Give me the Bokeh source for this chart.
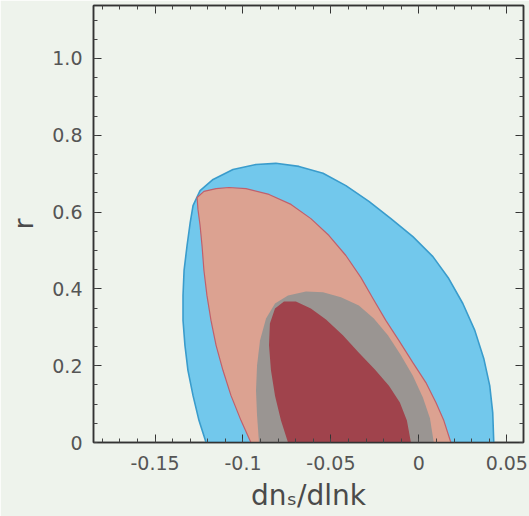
from bokeh.plotting import figure
from bokeh.models import FixedTicker, LinearAxis, Range1d
from bokeh.embed import file_html
from bokeh.resources import INLINE

# Confidence contours in the (dn_s/dlnk, r) plane
blue95_x = [-0.1210, -0.1250, -0.1284, -0.1313, -0.1330, -0.1341, -0.1341, -0.1335, -0.1318, -0.1300,
            -0.1284, -0.1244, -0.1170, -0.1057, -0.0926, -0.0813, -0.0682, -0.0545, -0.0415, -0.0284,
            -0.0159, -0.0034, 0.0080, 0.0170, 0.0250, 0.0318, 0.0369, 0.0403, 0.0420, 0.0426]
blue95_y = [0.0, 0.057, 0.122, 0.188, 0.253, 0.318, 0.383, 0.448, 0.513, 0.573,
            0.617, 0.656, 0.685, 0.711, 0.724, 0.727, 0.719, 0.701, 0.669, 0.628,
            0.583, 0.536, 0.484, 0.427, 0.362, 0.292, 0.219, 0.148, 0.078, 0.0]

red95_x = [-0.0955, -0.1011, -0.1068, -0.1114, -0.1153, -0.1182, -0.1205, -0.1222, -0.1233, -0.1244,
           -0.1256, -0.1261, -0.1222, -0.1153, -0.1080, -0.0983, -0.0852, -0.0727, -0.0614, -0.0511,
           -0.0415, -0.0330, -0.0261, -0.0188, -0.0114, -0.0034, 0.0040, 0.0097, 0.0142, 0.0182]
red95_y = [0.0, 0.057, 0.122, 0.188, 0.253, 0.318, 0.383, 0.448, 0.513, 0.565,
           0.607, 0.638, 0.654, 0.661, 0.664, 0.661, 0.646, 0.620, 0.583, 0.539,
           0.487, 0.430, 0.375, 0.318, 0.266, 0.208, 0.156, 0.104, 0.057, 0.0]

blue68_x = [-0.0909, -0.0920, -0.0926, -0.0920, -0.0903, -0.0869, -0.0818, -0.0744, -0.0642, -0.0545,
            -0.0443, -0.0341, -0.0256, -0.0176, -0.0102, -0.0034, 0.0023, 0.0063, 0.0085]
blue68_y = [0.0, 0.070, 0.135, 0.201, 0.266, 0.323, 0.362, 0.383, 0.393, 0.391,
            0.378, 0.357, 0.323, 0.279, 0.227, 0.174, 0.117, 0.063, 0.0]

red68_x = [-0.0744, -0.0784, -0.0818, -0.0841, -0.0852, -0.0847, -0.0818, -0.0767, -0.0699, -0.0614,
           -0.0528, -0.0432, -0.0341, -0.0250, -0.0170, -0.0108, -0.0068, -0.0045]
red68_y = [0.0, 0.057, 0.122, 0.188, 0.253, 0.310, 0.349, 0.367, 0.367, 0.349,
           0.320, 0.279, 0.234, 0.190, 0.148, 0.104, 0.057, 0.0]

x_ticks = [-0.15, -0.1, -0.05, 0.0, 0.05]
x_tick_labels = {-0.15: "-0.15", -0.1: "-0.1", -0.05: "-0.05", 0.0: "0", 0.05: "0.05"}
y_ticks = [0.0, 0.2, 0.4, 0.6, 0.8, 1.0]
y_tick_labels = {0.0: "0", 0.2: "0.2", 0.4: "0.4", 0.6: "0.6", 0.8: "0.8", 1.0: "1.0"}

x_minor = [round(-0.18 + 0.01 * i, 2) for i in range(24)]
y_minor = [round(0.05 * i, 2) for i in range(23)]

x_title = "dnₛ/dlnk"
y_title = "r"

BG = "#eef3ec"
FONT = "DejaVu Sans"

p = figure(width=529, height=516, output_backend="svg", toolbar_location=None,
           x_range=Range1d(-0.185, 0.0595), y_range=Range1d(0.0, 1.138),
           min_border_left=93, min_border_right=6, min_border_top=5, min_border_bottom=74,
           background_fill_color=BG, border_fill_color=BG, outline_line_color="#333333",
           outline_line_width=1.5)
p.xaxis.visible = False
p.yaxis.visible = False
p.grid.visible = False

p.patch(blue95_x, blue95_y, fill_color="#72c8ec", line_color="#3a9ccc", line_width=1.6)
p.patch(red95_x, red95_y, fill_color="#dca291", line_color="#c0606c", line_width=1.2)
p.patch(blue68_x, blue68_y, fill_color="#9a9592", line_color=None)
p.patch(red68_x, red68_y, fill_color="#a0434c", line_color=None)


def style(axis, labels):
    axis.axis_line_color = "#333333"
    axis.axis_line_width = 1.5
    axis.major_tick_line_color = "#333333"
    axis.minor_tick_line_color = "#444444"
    axis.major_tick_in = 8
    axis.major_tick_out = 0
    axis.minor_tick_in = 4
    axis.minor_tick_out = 0
    axis.major_label_text_font = FONT
    axis.major_label_text_color = "#555555"
    axis.major_label_text_font_size = "19px" if labels else "0px"
    axis.axis_label_text_font = FONT
    axis.axis_label_text_font_style = "normal"
    axis.axis_label_text_color = "#4a4a4a"


xt = FixedTicker(ticks=x_ticks, minor_ticks=x_minor)
yt = FixedTicker(ticks=y_ticks, minor_ticks=y_minor)

bottom = LinearAxis(ticker=xt, major_label_overrides=x_tick_labels, major_label_standoff=13,
                    axis_label=x_title, axis_label_standoff=6)
left = LinearAxis(ticker=yt, major_label_overrides=y_tick_labels, major_label_standoff=11,
                  axis_label=y_title, axis_label_standoff=10)
top = LinearAxis(ticker=xt, major_label_overrides={t: "" for t in x_ticks})
right = LinearAxis(ticker=yt, major_label_overrides={t: "" for t in y_ticks})
for ax, lab in ((bottom, True), (left, True), (top, False), (right, False)):
    style(ax, lab)
bottom.axis_label_text_font_size = "28px"
left.axis_label_text_font_size = "27px"
p.add_layout(bottom, "below")
p.add_layout(left, "left")
p.add_layout(top, "above")
p.add_layout(right, "right")

open("out.html", "w").write(file_html(p, INLINE))
